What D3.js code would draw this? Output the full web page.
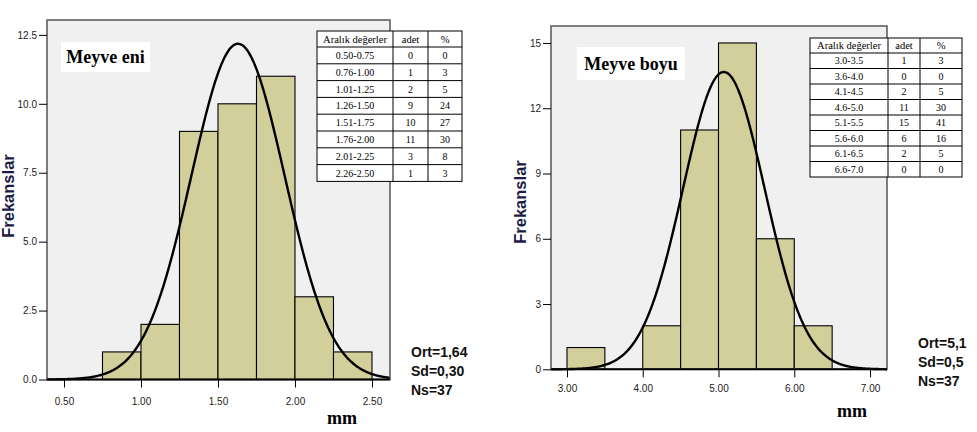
<!DOCTYPE html>
<html><head><meta charset="utf-8">
<script src="https://cdn.jsdelivr.net/npm/d3@7"></script>
<style>
html,body{margin:0;padding:0;background:#fff;}
svg{display:block;}
</style></head>
<body>
<svg id="chart" width="977" height="432"></svg>
<script>
// ---------- DATA ----------
// Left panel: Meyve eni
const leftTitle = "Meyve eni";
const leftEdges = [0.75, 1.00, 1.25, 1.50, 1.75, 2.00, 2.25, 2.50];
const leftCounts = [1, 2, 9, 10, 11, 3, 1];
const leftYTicks = [0, 2.5, 5.0, 7.5, 10.0, 12.5];
const leftXTicks = [0.50, 1.00, 1.50, 2.00, 2.50];
const leftMean = 1.63, leftSd = 0.303, leftN = 37;
const leftStats = ["Ort=1,64", "Sd=0,30", "Ns=37"];
const leftTableRanges = ["0.50-0.75","0.76-1.00","1.01-1.25","1.26-1.50","1.51-1.75","1.76-2.00","2.01-2.25","2.26-2.50"];
const leftTableCounts = [0, 1, 2, 9, 10, 11, 3, 1];
const leftTablePct = [0, 3, 5, 24, 27, 30, 8, 3];

// Right panel: Meyve boyu
const rightTitle = "Meyve boyu";
const rightEdges = [3.0, 3.5, 4.0, 4.5, 5.0, 5.5, 6.0, 6.5];
const rightCounts = [1, 0, 2, 11, 15, 6, 2];
const rightYTicks = [0, 3, 6, 9, 12, 15];
const rightXTicks = [3.00, 4.00, 5.00, 6.00, 7.00];
const rightMean = 5.07, rightSd = 0.54, rightN = 37;
const rightStats = ["Ort=5,1", "Sd=0,5", "Ns=37"];
const rightTableRanges = ["3.0-3.5","3.6-4.0","4.1-4.5","4.6-5.0","5.1-5.5","5.6-6.0","6.1-6.5","6.6-7.0"];
const rightTableCounts = [1, 0, 2, 11, 15, 6, 2, 0];
const rightTablePct = [3, 0, 5, 30, 41, 16, 5, 0];

const tableHeader = ["Aralık değerler", "adet", "%"];
const yLabel = "Frekanslar";
const xLabel = "mm";

// ---------- DRAW ----------
const svg = d3.select("#chart");

function panel(cfg) {
  const g = svg.append("g");
  const x = d3.scaleLinear().domain(cfg.xDomain).range([cfg.left, cfg.right]);
  const y = d3.scaleLinear().domain(cfg.yDomain).range([cfg.bottom, cfg.top]);

  // background
  g.append("rect").attr("x", cfg.left).attr("y", cfg.top)
    .attr("width", cfg.right - cfg.left).attr("height", cfg.bottom - cfg.top)
    .attr("fill", "#f0f0f0");

  // bars
  const bins = cfg.counts.map((c, i) => ({x0: cfg.edges[i], x1: cfg.edges[i + 1], c}))
    .filter(d => d.c > 0);
  g.selectAll("rect.bar").data(bins).enter().append("rect")
    .attr("class", "bar")
    .attr("x", d => x(d.x0)).attr("y", d => y(d.c))
    .attr("width", d => x(d.x1) - x(d.x0)).attr("height", d => y(0) - y(d.c))
    .attr("fill", "#d3cf9b").attr("stroke", "#000").attr("stroke-width", 1.1);

  // normal curve
  const bw = cfg.edges[1] - cfg.edges[0];
  const k = cfg.n * bw / (cfg.sd * Math.sqrt(2 * Math.PI));
  const xs = d3.range(cfg.xDomain[0], cfg.xDomain[1], (cfg.xDomain[1] - cfg.xDomain[0]) / 400).concat([cfg.xDomain[1]]);
  const line = d3.line().x(v => x(v)).y(v => y(k * Math.exp(-0.5 * Math.pow((v - cfg.mean) / cfg.sd, 2)))).curve(d3.curveBasis);
  g.append("path").datum(xs).attr("d", line)
    .attr("fill", "none").attr("stroke", "#000").attr("stroke-width", 2.4);

  // frame
  g.append("rect").attr("x", cfg.left).attr("y", cfg.top)
    .attr("width", cfg.right - cfg.left).attr("height", cfg.bottom - cfg.top)
    .attr("fill", "none").attr("stroke", "#555").attr("stroke-width", 1.5);
  // baseline
  g.append("line").attr("x1", cfg.left).attr("x2", cfg.right)
    .attr("y1", y(0)).attr("y2", y(0)).attr("stroke", "#000").attr("stroke-width", 2);

  // y axis
  const yAxis = d3.axisLeft(y).tickValues(cfg.yTicks).tickFormat(cfg.yFmt).tickSize(8).tickPadding(2);
  const ya = g.append("g").attr("transform", `translate(${cfg.left},0)`).call(yAxis);
  ya.select(".domain").remove();
  ya.selectAll("line").attr("stroke", "#000");
  ya.selectAll("text").attr("font-family", "Liberation Sans, Arial, sans-serif").attr("font-size", 10).attr("fill", "#222");

  // x axis
  const xAxis = d3.axisBottom(x).tickValues(cfg.xTicks).tickFormat(d3.format(".2f")).tickSize(8).tickPadding(cfg.xPad);
  const xa = g.append("g").attr("transform", `translate(0,${y(0)})`).call(xAxis);
  xa.select(".domain").remove();
  xa.selectAll("line").attr("stroke", "#000");
  xa.selectAll("text").attr("font-family", "Liberation Sans, Arial, sans-serif").attr("font-size", 10).attr("fill", "#222");

  // title box
  g.append("rect").attr("x", cfg.titleBox[0]).attr("y", cfg.titleBox[1])
    .attr("width", cfg.titleBox[2]).attr("height", cfg.titleBox[3]).attr("fill", "#fff");
  g.append("text").attr("x", cfg.titleBox[0] + cfg.titleBox[2] / 2).attr("y", cfg.titleBox[1] + cfg.titleBox[3] / 2 + 6)
    .attr("text-anchor", "middle")
    .attr("font-family", "Liberation Serif, Times New Roman, serif").attr("font-weight", "bold")
    .attr("font-size", 18).attr("fill", "#000").text(cfg.title);

  // y label
  g.append("text").attr("transform", `translate(${cfg.yLabX},${cfg.yLabY}) rotate(-90)`)
    .attr("text-anchor", "middle").attr("font-family", "Liberation Sans, Arial, sans-serif")
    .attr("font-weight", "bold").attr("font-size", 16.5).attr("fill", "#1c1c44").text(yLabel);

  // x label
  g.append("text").attr("x", cfg.xLabX).attr("y", cfg.xLabY).attr("text-anchor", "middle")
    .attr("font-family", "Liberation Serif, Times New Roman, serif").attr("font-weight", "bold")
    .attr("font-size", 18).attr("fill", "#000").text(xLabel);

  // stats
  g.selectAll("text.stat").data(cfg.stats).enter().append("text").attr("class", "stat")
    .attr("x", cfg.statX).attr("y", (d, i) => cfg.statY + i * 19)
    .attr("font-family", "Liberation Sans, Arial, sans-serif").attr("font-weight", "bold")
    .attr("font-size", 14).attr("fill", "#111").text(d => d);

  // table
  const t = cfg.table;
  const tg = g.append("g");
  const colX = t.cols; // [x0, x1, x2, x3]
  const rowsY = [t.top, t.headBottom].concat(cfg.tRanges.map((_, i) => t.headBottom + (i + 1) * t.rowH));
  tg.append("rect").attr("x", colX[0]).attr("y", t.top).attr("width", colX[3] - colX[0])
    .attr("height", rowsY[rowsY.length - 1] - t.top).attr("fill", "#fff").attr("stroke", "#000").attr("stroke-width", 1);
  rowsY.slice(1, -1).forEach(yy => tg.append("line").attr("x1", colX[0]).attr("x2", colX[3])
    .attr("y1", yy).attr("y2", yy).attr("stroke", "#000").attr("stroke-width", 1));
  [colX[1], colX[2]].forEach(xx => tg.append("line").attr("x1", xx).attr("x2", xx)
    .attr("y1", t.top).attr("y2", rowsY[rowsY.length - 1]).attr("stroke", "#000").attr("stroke-width", 1));
  const cellFont = "Liberation Serif, Times New Roman, serif";
  tableHeader.forEach((h, j) => tg.append("text")
    .attr("x", (colX[j] + colX[j + 1]) / 2).attr("y", (t.top + t.headBottom) / 2 + 3.5)
    .attr("text-anchor", "middle").attr("font-family", cellFont).attr("font-size", 10.5).text(h));
  cfg.tRanges.forEach((r, i) => {
    const cy = t.headBottom + i * t.rowH + t.rowH / 2 + 3.5;
    [r, cfg.tCounts[i], cfg.tPct[i]].forEach((v, j) => tg.append("text")
      .attr("x", (colX[j] + colX[j + 1]) / 2).attr("y", cy)
      .attr("text-anchor", "middle").attr("font-family", cellFont).attr("font-size", 10).text(v));
  });
}

panel({
  left: 47, right: 390, top: 20, bottom: 379.5,
  xDomain: [0.3896, 2.617], yDomain: [0, 13.04],
  edges: leftEdges, counts: leftCounts, mean: leftMean, sd: leftSd, n: leftN,
  yTicks: leftYTicks, yFmt: d3.format(".1f"), xTicks: leftXTicks, xPad: 10,
  title: leftTitle, titleBox: [61, 42, 89, 30],
  yLabX: 14, yLabY: 196, xLabX: 342, xLabY: 424,
  stats: leftStats, statX: 411, statY: 357,
  table: {cols: [317, 393, 428, 462], top: 31, headBottom: 47, rowH: 16.8},
  tRanges: leftTableRanges, tCounts: leftTableCounts, tPct: leftTablePct
});

panel({
  left: 551, right: 887, top: 26, bottom: 369.3,
  xDomain: [2.789, 7.224], yDomain: [0, 15.78],
  edges: rightEdges, counts: rightCounts, mean: rightMean, sd: rightSd, n: rightN,
  yTicks: rightYTicks, yFmt: d3.format("d"), xTicks: rightXTicks, xPad: 8,
  title: rightTitle, titleBox: [577, 47, 108, 33],
  yLabX: 526, yLabY: 202, xLabX: 852, xLabY: 417,
  stats: rightStats, statX: 918, statY: 348,
  table: {cols: [810, 888, 920, 962], top: 38, headBottom: 53, rowH: 15.5},
  tRanges: rightTableRanges, tCounts: rightTableCounts, tPct: rightTablePct
});
</script>
</body></html>
